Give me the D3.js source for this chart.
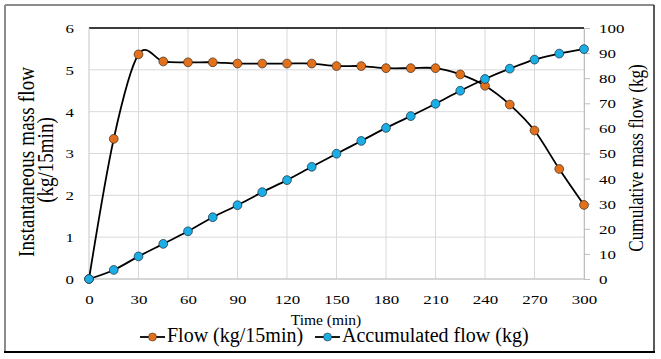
<!DOCTYPE html>
<html><head><meta charset="utf-8">
<script src="https://cdn.jsdelivr.net/npm/d3@7"></script>
<style>
html,body{margin:0;padding:0;background:#fff;}
svg{display:block;}
</style></head>
<body><svg id="c" width="661" height="359" font-family="Liberation Serif"></svg>
<script>
const times = [0,15,30,45,60,75,90,105,120,135,150,165,180,195,210,225,240,255,270,285,300];
const flow = [0,3.35,5.37,5.2,5.18,5.18,5.15,5.15,5.15,5.15,5.09,5.09,5.04,5.04,5.04,4.89,4.62,4.17,3.55,2.63,1.77];
const accumulated = [0,3.6,9.0,14.0,19.0,24.6,29.4,34.6,39.4,44.7,49.9,55.0,60.2,64.9,69.8,75.0,79.7,83.8,87.4,89.8,91.6];
const xTicks = [0,30,60,90,120,150,180,210,240,270,300];
const yLeftTicks = [0,1,2,3,4,5,6];
const yRightTicks = [0,10,20,30,40,50,60,70,80,90,100];
const seriesNames = ["Flow (kg/15min)","Accumulated flow (kg)"];
const seriesColors = ["#E2711D","#1BAEE4"];

const svg = d3.select("#c");
const FF = "Liberation Serif";
const L=89,R=584,T=28,B=279;
const x = d3.scaleLinear().domain([0,300]).range([L,R]);
const yL = d3.scaleLinear().domain([0,6]).range([B,T]);
const yR = d3.scaleLinear().domain([0,100]).range([B,T]);

// outer frame
svg.append("line").attr("x1",5).attr("y1",5).attr("x2",654).attr("y2",5).attr("stroke","#8c8c8c").attr("stroke-width",2);
svg.append("line").attr("x1",5).attr("y1",5).attr("x2",5).attr("y2",352).attr("stroke","#8c8c8c").attr("stroke-width",2);
svg.append("line").attr("x1",654).attr("y1",5).attr("x2",654).attr("y2",352).attr("stroke","#222").attr("stroke-width",1.5);
svg.append("line").attr("x1",4).attr("y1",352).attr("x2",655).attr("y2",352).attr("stroke","#000").attr("stroke-width",2);

// grid
svg.append("g").selectAll("line").data(xTicks).join("line")
  .attr("x1",d=>x(d)).attr("x2",d=>x(d)).attr("y1",T).attr("y2",B)
  .attr("stroke","#d9d9d9").attr("stroke-width",1);
svg.append("g").selectAll("line").data(yLeftTicks).join("line")
  .attr("x1",L).attr("x2",R).attr("y1",d=>yL(d)).attr("y2",d=>yL(d))
  .attr("stroke","#d9d9d9").attr("stroke-width",1);
svg.append("line").attr("x1",L).attr("x2",R).attr("y1",T).attr("y2",T).attr("stroke","#000").attr("stroke-width",1.5);
svg.append("line").attr("x1",L).attr("x2",R).attr("y1",B).attr("y2",B).attr("stroke","#bfbfbf").attr("stroke-width",1);

const SX = 1.3;
// axes
const gx = svg.append("g").attr("transform",`translate(0,${B})`)
  .call(d3.axisBottom(x).tickValues(xTicks).tickSize(0).tickFormat(d3.format("d")));
gx.attr("font-family",FF);
gx.select(".domain").remove();
gx.selectAll("text").attr("y",25).attr("dy",0).attr("transform",`scale(${SX},1)`)
  .attr("font-size",13).attr("fill","#000");

const gl = svg.append("g").attr("transform",`translate(${L},0)`)
  .call(d3.axisLeft(yL).tickValues(yLeftTicks).tickSize(0).tickFormat(d3.format("d")));
gl.attr("font-family",FF);
gl.select(".domain").remove();
gl.selectAll("text").attr("x",-15/SX).attr("dy","0.34em").attr("transform",`scale(${SX},1)`)
  .attr("font-size",13).attr("fill","#000");

const gr = svg.append("g").attr("transform",`translate(${R},0)`)
  .call(d3.axisRight(yR).tickValues(yRightTicks).tickSize(6).tickFormat(d3.format("d")));
gr.attr("font-family",FF);
gr.select(".domain").attr("stroke","#bfbfbf");
gr.selectAll(".tick line").attr("stroke","#bfbfbf");
gr.selectAll("text").attr("x",15/SX).attr("dy","0.34em").attr("transform",`scale(${SX},1)`)
  .attr("font-size",13).attr("fill","#000");

// left edge of plot
svg.append("line").attr("x1",L).attr("x2",L).attr("y1",T).attr("y2",B).attr("stroke","#d9d9d9");

// lines
const lineL = d3.line().x((d,i)=>x(times[i])).y(d=>yL(d)).curve(d3.curveCatmullRom.alpha(0));
const lineR = d3.line().x((d,i)=>x(times[i])).y(d=>yR(d)).curve(d3.curveCatmullRom.alpha(0));
svg.append("path").attr("d",lineL(flow)).attr("fill","none").attr("stroke","#000").attr("stroke-width",1.8);
svg.append("path").attr("d",lineR(accumulated)).attr("fill","none").attr("stroke","#000").attr("stroke-width",1.8);

svg.append("g").selectAll("circle").data(flow).join("circle")
  .attr("cx",(d,i)=>x(times[i])).attr("cy",d=>yL(d)).attr("r",4.4)
  .attr("fill",seriesColors[0]).attr("stroke","#3a2a1a").attr("stroke-width",0.7);
svg.append("g").selectAll("circle").data(accumulated).join("circle")
  .attr("cx",(d,i)=>x(times[i])).attr("cy",d=>yR(d)).attr("r",4.4)
  .attr("fill",seriesColors[1]).attr("stroke","#1a2a3a").attr("stroke-width",0.7);

// axis titles
svg.append("text").attr("transform","translate(34,162) rotate(-90) scale(1,1.2)").attr("text-anchor","middle")
  .attr("font-size",19).attr("textLength",190).attr("lengthAdjust","spacing").text("Instantaneous mass flow");
svg.append("text").attr("transform","translate(53,160) rotate(-90) scale(1,1.2)").attr("text-anchor","middle")
  .attr("font-size",19).text("(kg/15min)");
svg.append("text").attr("transform","translate(643,158) rotate(-90) scale(1,1.25)").attr("text-anchor","middle")
  .attr("font-size",17.2).text("Cumulative mass flow (kg)");
svg.append("text").attr("x",326).attr("y",325).attr("text-anchor","middle")
  .attr("font-size",15.5).text("Time (min)");

// legend
const legX = [140,315];
const lg = svg.append("g").selectAll("g").data(seriesNames).join("g")
  .attr("transform",(d,i)=>`translate(${legX[i]},337)`);
lg.append("line").attr("x1",0).attr("x2",25).attr("y1",0).attr("y2",0).attr("stroke","#000").attr("stroke-width",1.8);
lg.append("circle").attr("cx",12.5).attr("cy",0).attr("r",4).attr("fill",(d,i)=>seriesColors[i]).attr("stroke","#333").attr("stroke-width",0.6);
lg.append("text").attr("x",27).attr("y",5).attr("font-size",20).text(d=>d);
</script></body></html>
